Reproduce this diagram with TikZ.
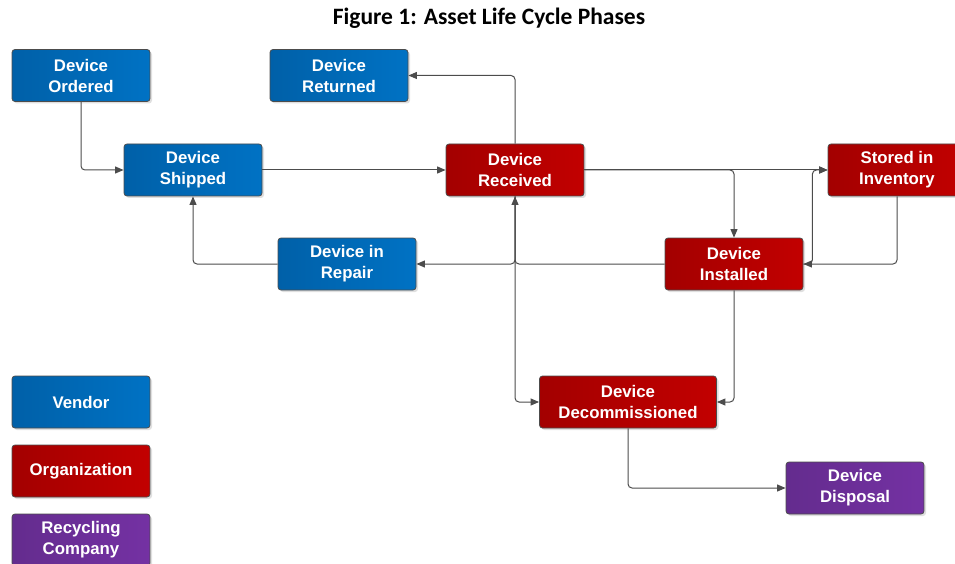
\documentclass[tikz,border=0pt]{standalone}
\usepackage{fontspec}
\setmainfont{Liberation Sans}
\newfontfamily\titlefont{Carlito}
\usetikzlibrary{
    positioning,  % relative placement
    arrows.meta,  % arrow tips
    shadows       % drop shadows under the boxes
}

\definecolor{vendorDark}{HTML}{0060A8}
\definecolor{vendorLight}{HTML}{0072C4}
\definecolor{orgDark}{HTML}{A30000}
\definecolor{orgLight}{HTML}{C20000}
\definecolor{recycleDark}{HTML}{642C8E}
\definecolor{recycleLight}{HTML}{7431A3}

\begin{document}
\begin{tikzpicture}[
    % one unit = one pixel of the target, y grows downwards
    x=1pt, y=-1pt,
    % Style for every phase box
    phase/.style={
        draw=black!70,
        line width=0.8pt,
        rounded corners=3pt,
        minimum width=138pt,
        minimum height=52pt,
        inner sep=2pt,
        align=center,
        text=white,
        font=\bfseries\fontsize{16.8}{21}\selectfont,
        drop shadow={shadow xshift=2pt, shadow yshift=-2pt, opacity=0.25}
    },
    % Colour per party
    vendor/.style={phase, left color=vendorDark, right color=vendorLight},
    org/.style={phase, left color=orgDark, right color=orgLight},
    recycler/.style={phase, left color=recycleDark, right color=recycleLight},
    % Style for the connectors
    flow/.style={
        draw=black!70,
        line width=1pt,
        rounded corners=4pt,
        -{Triangle[length=8.5pt, width=7pt]}
    }
]
    \useasboundingbox (0,0) rectangle (955,564);

    % 1. Title
    \node[font=\titlefont\bfseries\fontsize{23.5}{27}\selectfont] (title) at (489,18)
        {Figure 1: Asset Life Cycle Phases};

    % 2. The phases
    \node[vendor] (ordered)  at (81,75.5)  {Device\\Ordered};
    \node[vendor] (returned) at (339,75.5) {Device\\Returned};
    \node[vendor] (shipped)  at (193,170)  {Device\\Shipped};
    \node[org]    (received) at (515,170)  {Device\\Received};
    \node[org]    (stored)   at (897,170)  {Stored in\\Inventory};
    \node[vendor] (repair)   at (347,264)  {Device in\\Repair};
    \node[org]    (installed) at (734,264) {Device\\Installed};
    \node[org, minimum width=177pt] (decomm) at (628,402) {Device\\Decommissioned};
    \node[recycler] (disposal) at (855,488) {Device\\Disposal};

    % 3. Legend
    \node[vendor]   (key_vendor)  at (81,402) {Vendor};
    \node[org]      (key_org)     at (81,471) {Organization};
    \node[recycler] (key_recycle) at (81,540) {Recycling\\Company};

    % 4. Connectors
    \draw[flow] (ordered.south) |- (shipped.west);
    \draw[flow] (shipped.east) -- (received.west);
    \draw[flow] (received.north) |- (returned.east);
    \draw[flow] (received.east) -- (stored.west);
    \draw[flow] (received.east) -| (installed.north);
    \draw[flow] (installed.east) -- ++(9,0) |- (stored.west);
    \draw[flow] (stored.south) |- (installed.east);
    \draw[flow] (installed.west) -| (received.south);
    \draw[flow] (received.south) |- (repair.east);
    \draw[flow] (repair.west) -| (shipped.south);
    \draw[flow] (received.south) |- (decomm.west);
    \draw[flow] (installed.south) |- (decomm.east);
    \draw[flow] (decomm.south) |- (disposal.west);

\end{tikzpicture}
\end{document}
